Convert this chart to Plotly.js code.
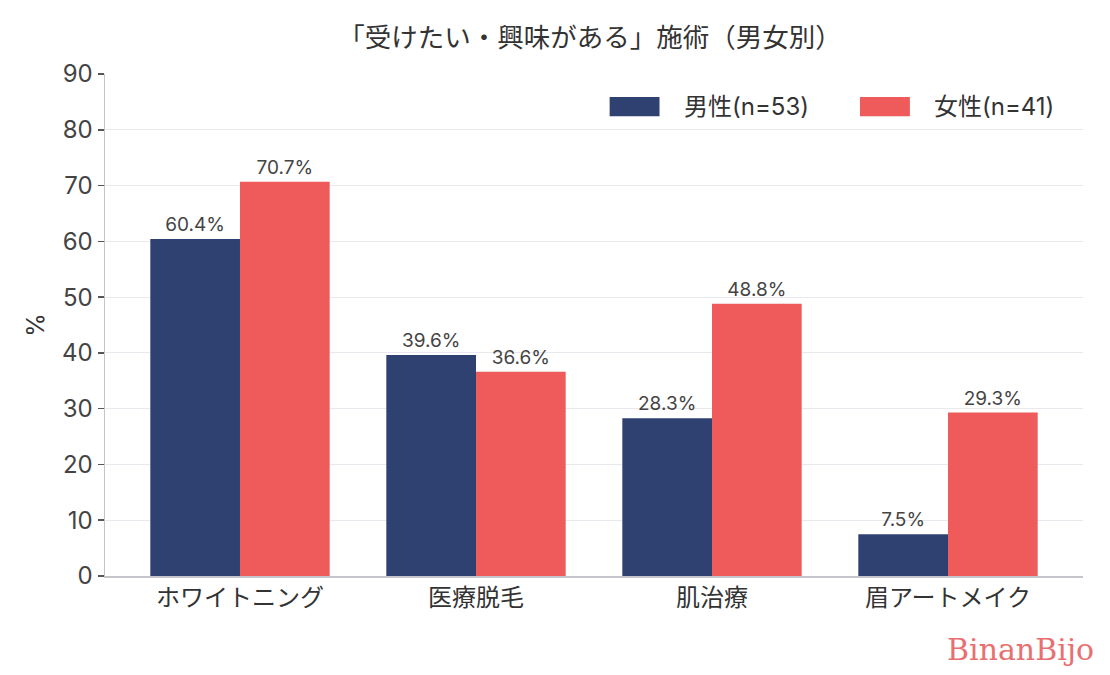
<!DOCTYPE html>
<html><head><meta charset="utf-8">
<script src="https://cdn.plot.ly/plotly-3.0.1.min.js"></script>
<style>body{margin:0;background:#fff}</style>
</head><body>
<div id="chart" style="width:1110px;height:675px"></div>
<script>
const categories = ["ホワイトニング", "医療脱毛", "肌治療", "眉アートメイク"];
const maleValues = [60.4, 39.6, 28.3, 7.5];
const femaleValues = [70.7, 36.6, 48.8, 29.3];
const maleName = "男性(n=53)";
const femaleName = "女性(n=41)";
const yTicks = [0, 10, 20, 30, 40, 50, 60, 70, 80, 90];

const FONT = "Inter, 'Noto Sans CJK JP', sans-serif";
const MALE = "#2e4170";
const FEMALE = "#ef5a5a";

const traces = [
  {type: "bar", x: categories, y: maleValues, name: maleName,
   marker: {color: MALE}, text: maleValues.map(v => v.toFixed(1) + "%"),
   textposition: "outside", cliponaxis: false,
   textfont: {size: 19, color: "#444", family: FONT}},
  {type: "bar", x: categories, y: femaleValues, name: femaleName,
   marker: {color: FEMALE}, text: femaleValues.map(v => v.toFixed(1) + "%"),
   textposition: "outside", cliponaxis: false,
   textfont: {size: 19, color: "#444", family: FONT}}
];

const layout = {
  width: 1110, height: 675,
  margin: {l: 105, r: 27, t: 74, b: 99},
  paper_bgcolor: "#fff", plot_bgcolor: "#fff",
  font: {family: FONT, color: "#333"},
  title: {text: "「受けたい・興味がある」施術（男女別）", x: 0.496, xref: "paper", xanchor: "center",
          y: 0.944, yanchor: "middle",
          font: {size: 26.5, color: "#333", family: FONT}},
  barmode: "group", bargap: 0.24, bargroupgap: 0,
  showlegend: false,
  xaxis: {range: [-0.572, 3.572], showline: true, linecolor: "#c4c6cc", linewidth: 1.5,
          ticks: "", tickfont: {size: 24, color: "#333", family: FONT}, showgrid: false, fixedrange: true},
  yaxis: {range: [0, 90], tickvals: yTicks, showline: true, linecolor: "#c4c6cc", linewidth: 1.5,
          ticks: "outside", ticklen: 6, tickcolor: "#555", tickwidth: 1.5,
          tickfont: {size: 24, color: "#444", family: FONT},
          gridcolor: "#e8e8ee", gridwidth: 1, zeroline: false,
          title: {text: "%", font: {size: 24, color: "#333", family: FONT}, standoff: 10}},
  shapes: [
    {type: "rect", xref: "paper", yref: "paper", x0: 0.516, x1: 0.567, y0: 0.916, y1: 0.954, fillcolor: MALE, line: {width: 0}},
    {type: "rect", xref: "paper", yref: "paper", x0: 0.772, x1: 0.823, y0: 0.916, y1: 0.954, fillcolor: FEMALE, line: {width: 0}}
  ],
  annotations: [
    {xref: "paper", yref: "paper", x: 0.590, y: 0.936, xanchor: "left", yanchor: "middle", showarrow: false,
     text: maleName, font: {size: 24, color: "#333", family: FONT}},
    {xref: "paper", yref: "paper", x: 0.846, y: 0.936, xanchor: "left", yanchor: "middle", showarrow: false,
     text: femaleName, font: {size: 24, color: "#333", family: FONT}},
    {xref: "paper", yref: "paper", x: 1.013, y: -0.147, xanchor: "right", yanchor: "middle", showarrow: false,
     text: "BinanBijo", font: {size: 30, color: "#e87070", family: "'DejaVu Serif', serif"}}
  ]
};

Plotly.newPlot("chart", traces, layout, {displayModeBar: false, staticPlot: true});
</script>
</body></html>
